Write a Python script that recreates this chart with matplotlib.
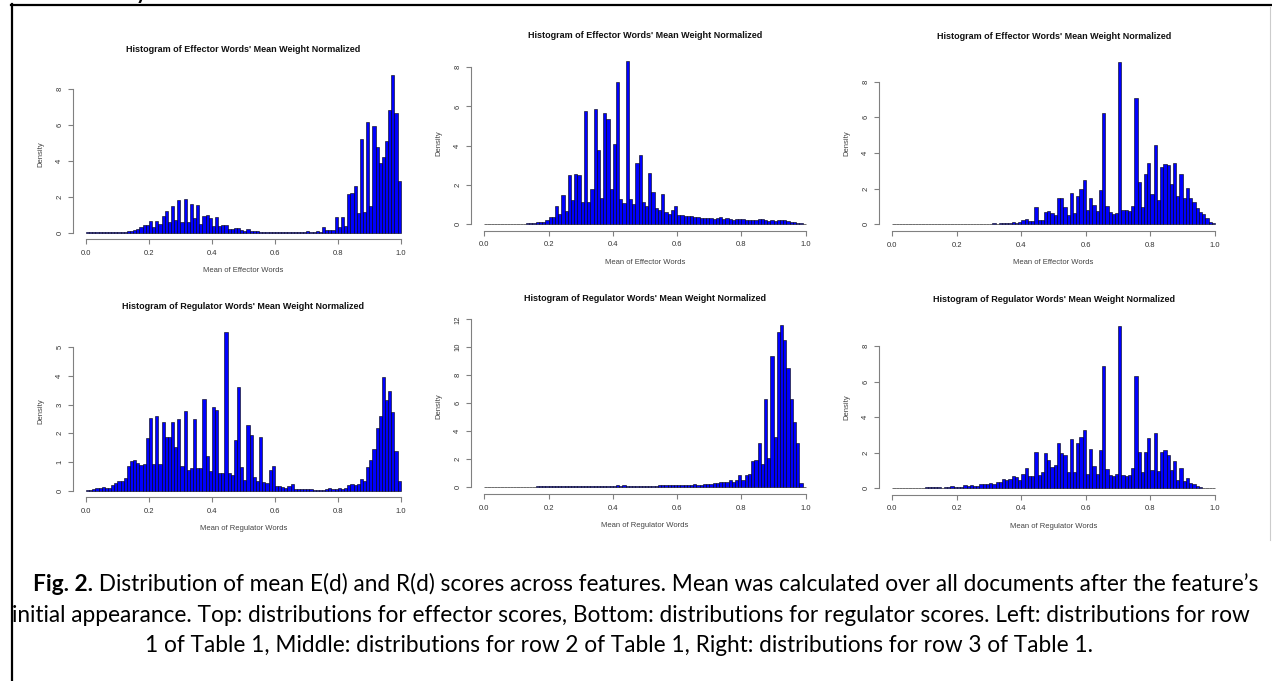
import numpy as np
import matplotlib
matplotlib.use("Agg")
import matplotlib.pyplot as plt
from matplotlib.lines import Line2D

W, H = 1272, 681

# density per 0.01-wide bin
eff_row1 = [0.02, 0.02, 0.02, 0.02, 0.02, 0.02, 0.03, 0.03, 0.05, 0.05,
            0.05, 0.06, 0.06, 0.07, 0.1, 0.15, 0.2, 0.3, 0.45, 0.45,
            0.65, 0.3, 0.65, 0.5, 0.95, 1.2, 0.6, 1.5, 0.7, 1.8,
            0.6, 1.85, 0.6, 1.6, 0.8, 1.55, 0.5, 0.95, 1.0, 0.8,
            0.4, 0.85, 0.4, 0.45, 0.45, 0.2, 0.22, 0.25, 0.25, 0.15,
            0.12, 0.18, 0.12, 0.1, 0.1, 0.06, 0.06, 0.05, 0.06, 0.05,
            0.05, 0.06, 0.05, 0.05, 0.06, 0.04, 0.04, 0.04, 0.05, 0.05,
            0.1, 0.05, 0.05, 0.08, 0.05, 0.3, 0.15, 0.15, 0.15, 0.9,
            0.3, 0.85, 0.35, 2.15, 2.2, 2.6, 1.1, 5.2, 1.15, 6.15,
            1.5, 5.9, 4.75, 3.85, 4.2, 5.1, 6.8, 8.75, 6.65, 2.85]

eff_row2 = [0.02, 0.02, 0.02, 0.02, 0.02, 0.02, 0.02, 0.02, 0.02, 0.02,
            0.02, 0.02, 0.02, 0.05, 0.03, 0.03, 0.08, 0.08, 0.1, 0.2,
            0.35, 0.35, 0.9, 0.5, 1.5, 0.65, 2.5, 1.2, 2.55, 2.5,
            1.1, 5.75, 1.1, 1.8, 5.85, 3.8, 1.35, 5.65, 5.35, 1.8,
            4.1, 7.25, 1.3, 1.05, 8.3, 1.3, 1.0, 3.1, 3.5, 1.1,
            0.9, 2.6, 1.65, 0.8, 0.7, 1.55, 0.6, 0.5, 0.7, 0.9,
            0.45, 0.45, 0.4, 0.4, 0.4, 0.38, 0.35, 0.33, 0.3, 0.3,
            0.3, 0.28, 0.3, 0.35, 0.25, 0.3, 0.27, 0.22, 0.27, 0.25,
            0.25, 0.22, 0.2, 0.22, 0.2, 0.25, 0.28, 0.2, 0.15, 0.18,
            0.15, 0.2, 0.2, 0.18, 0.15, 0.12, 0.08, 0.05, 0.03, 0.02]

eff_row3 = [0.01, 0.01, 0.01, 0.01, 0.01, 0.01, 0.01, 0.01, 0.01, 0.01,
            0.01, 0.01, 0.01, 0.01, 0.01, 0.01, 0.01, 0.01, 0.01, 0.01,
            0.01, 0.01, 0.01, 0.01, 0.01, 0.01, 0.01, 0.02, 0.02, 0.02,
            0.03, 0.05, 0.03, 0.05, 0.1, 0.05, 0.05, 0.15, 0.1, 0.12,
            0.25, 0.3, 0.2, 0.2, 0.95, 0.25, 0.25, 0.7, 0.75, 0.65,
            0.55, 1.45, 1.5, 0.95, 0.55, 1.75, 0.65, 1.6, 2.0, 2.5,
            0.8, 1.45, 1.1, 0.75, 1.9, 6.25, 1.05, 0.7, 0.6, 0.65,
            9.1, 0.8, 0.8, 0.75, 1.05, 7.1, 2.4, 0.95, 2.85, 3.45,
            1.7, 4.45, 1.35, 3.2, 3.4, 3.3, 2.25, 3.45, 1.6, 2.8,
            1.5, 2.05, 1.5, 1.25, 0.9, 0.7, 0.6, 0.35, 0.15, 0.05]

reg_row1 = [0.02, 0.04, 0.06, 0.08, 0.08, 0.14, 0.1, 0.1, 0.2, 0.28,
            0.32, 0.32, 0.45, 0.85, 1.05, 1.08, 0.95, 0.9, 0.93, 1.82,
            2.52, 0.93, 2.6, 0.92, 2.38, 1.88, 1.88, 2.38, 1.52, 2.5,
            0.85, 2.78, 0.72, 0.8, 2.5, 0.78, 0.78, 3.2, 1.22, 0.67,
            2.93, 2.83, 0.63, 0.63, 5.52, 0.6, 0.53, 1.77, 3.63, 0.82,
            0.38, 2.3, 1.95, 0.48, 0.33, 1.87, 0.3, 0.27, 0.72, 0.87,
            0.15, 0.15, 0.12, 0.08, 0.15, 0.24, 0.07, 0.06, 0.06, 0.06,
            0.06, 0.05, 0.04, 0.03, 0.03, 0.04, 0.06, 0.1, 0.05, 0.05,
            0.08, 0.07, 0.1, 0.2, 0.23, 0.2, 0.25, 0.42, 0.35, 0.83,
            1.06, 1.47, 2.2, 2.6, 3.96, 3.18, 3.47, 2.75, 1.38, 0.32]

reg_row2 = [0.02, 0.02, 0.02, 0.02, 0.02, 0.03, 0.03, 0.04, 0.05, 0.04,
            0.04, 0.05, 0.05, 0.04, 0.05, 0.05, 0.06, 0.07, 0.08, 0.07,
            0.07, 0.1, 0.08, 0.08, 0.1, 0.07, 0.07, 0.08, 0.08, 0.1,
            0.07, 0.1, 0.08, 0.1, 0.08, 0.1, 0.1, 0.1, 0.1, 0.08,
            0.12, 0.15, 0.1, 0.15, 0.1, 0.08, 0.08, 0.1, 0.1, 0.1,
            0.1, 0.12, 0.12, 0.12, 0.15, 0.2, 0.15, 0.18, 0.15, 0.15,
            0.15, 0.2, 0.18, 0.18, 0.18, 0.22, 0.2, 0.2, 0.25, 0.25,
            0.25, 0.3, 0.28, 0.35, 0.4, 0.4, 0.5, 0.4, 0.5, 0.9,
            0.55, 0.9, 0.95, 1.9, 1.95, 3.15, 1.7, 6.3, 2.1, 9.4,
            3.6, 11.1, 11.6, 10.55, 8.5, 6.3, 4.7, 3.2, 0.3, 0.05]

reg_row3 = [0.01, 0.01, 0.01, 0.01, 0.01, 0.01, 0.02, 0.01, 0.01, 0.01,
            0.03, 0.03, 0.03, 0.05, 0.03, 0.02, 0.05, 0.05, 0.1, 0.05,
            0.08, 0.08, 0.17, 0.13, 0.15, 0.13, 0.12, 0.22, 0.2, 0.25,
            0.28, 0.25, 0.35, 0.33, 0.5, 0.45, 0.5, 0.68, 0.62, 0.45,
            0.8, 1.13, 0.65, 0.65, 2.05, 0.75, 0.93, 1.95, 1.6, 1.2,
            1.32, 2.52, 1.95, 1.88, 0.9, 2.78, 0.9, 2.52, 2.9, 3.3,
            0.8, 2.22, 1.25, 0.8, 2.13, 6.9, 1.1, 0.72, 0.65, 0.8,
            9.15, 0.72, 0.7, 0.72, 1.15, 6.3, 2.05, 0.9, 2.05, 2.8,
            1.02, 3.08, 0.95, 2.02, 2.17, 1.85, 1.0, 1.52, 0.45, 1.15,
            0.38, 0.57, 0.3, 0.22, 0.12, 0.05, 0.02, 0.01, 0.01, 0.0]

eff_title = "Histogram of Effector Words' Mean Weight Normalized"
reg_title = "Histogram of Regulator Words' Mean Weight Normalized"
eff_xlabel = "Mean of Effector Words"
reg_xlabel = "Mean of Regulator Words"
x_ticks = [0.0, 0.2, 0.4, 0.6, 0.8, 1.0]

caption_bold = "Fig. 2."
caption_lines = [
    " Distribution of mean E(d) and R(d) scores across features. Mean was calculated over all documents after the feature\u2019s",
    "initial appearance. Top: distributions for effector scores, Bottom: distributions for regulator scores. Left: distributions for row",
    "1 of Table 1, Middle: distributions for row 2 of Table 1, Right: distributions for row 3 of Table 1.",
]

plt.rcParams["font.family"] = ["Liberation Sans", "DejaVu Sans"]

fig = plt.figure(figsize=(W / 100, H / 100), dpi=100)

# plot regions in pixels: left, top, right, bottom
panels = [
    (eff_row1, eff_title, eff_xlabel, [0, 2, 4, 6, 8], (73.4, 68.9, 413.3, 239.0)),
    (eff_row2, eff_title, eff_xlabel, [0, 2, 4, 6, 8], (471.4, 54.9, 818.6, 230.5)),
    (eff_row3, eff_title, eff_xlabel, [0, 2, 4, 6, 8], (879.4, 55.6, 1227.9, 230.8)),
    (reg_row1, reg_title, reg_xlabel, [0, 1, 2, 3, 4, 5], (73.4, 326.1, 413.3, 497.0)),
    (reg_row2, reg_title, reg_xlabel, [0, 2, 4, 6, 8, 10, 12], (471.4, 318.4, 818.6, 493.8)),
    (reg_row3, reg_title, reg_xlabel, [0, 2, 4, 6, 8], (879.4, 319.4, 1227.9, 494.5)),
]

bin_left = np.arange(100) / 100.0
axis_grey = "#808080"

for dens, title, xlabel, yticks, (l, t, r, b) in panels:
    ax = fig.add_axes([l / W, 1 - b / H, (r - l) / W, (b - t) / H])
    ax.bar(bin_left, dens, width=0.01, align="edge", color="#0000ff",
           edgecolor="black", linewidth=0.4)
    ymax = max(dens)
    # R style: 4% padding around the data range
    ax.set_xlim(-0.04, 1.04)
    ax.set_ylim(-0.04 * ymax, 1.04 * ymax)
    for s in ["top", "right"]:
        ax.spines[s].set_visible(False)
    ax.spines["bottom"].set_bounds(0, 1)
    ax.spines["left"].set_bounds(yticks[0], yticks[-1])
    for s in ["bottom", "left"]:
        ax.spines[s].set_color(axis_grey)
        ax.spines[s].set_linewidth(0.8)
    ax.set_xticks(x_ticks)
    ax.set_xticklabels(["%.1f" % v for v in x_ticks])
    ax.set_yticks(yticks)
    ax.set_yticklabels([str(v) for v in yticks])
    ax.tick_params(axis="both", length=3.3, width=0.8, color=axis_grey,
                   labelcolor="#333333", labelsize=5.5)
    ax.tick_params(axis="x", pad=4.5)
    ax.tick_params(axis="y", pad=4.0)
    for lab in ax.get_yticklabels():
        lab.set_rotation(90)
        lab.set_va("center")
    ax.patch.set_visible(False)

    cx = (l + r) / 2
    fig.text(cx / W, 1 - (t - 19.5) / H, title, ha="center", va="center",
             fontsize=6.5, fontweight="bold", color="#111111")
    fig.text(cx / W, 1 - (b + 32) / H, xlabel, ha="center", va="center",
             fontsize=5.5, color="#444444")
    fig.text((l - 33) / W, 1 - (t + b) / 2 / H, "Density", rotation=90,
             ha="center", va="center", fontsize=5.5, color="#444444")

# frame around the figure
fig.add_artist(Line2D([11 / W, 1], [1 - 4.5 / H, 1 - 4.5 / H], transform=fig.transFigure,
                      color="black", linewidth=1.6))
fig.add_artist(Line2D([11.5 / W, 11.5 / W], [1 - 4 / H, 0], transform=fig.transFigure,
                      color="black", linewidth=1.6))
fig.add_artist(Line2D([1269.5 / W, 1269.5 / W], [1 - 7 / H, 1 - 540 / H], transform=fig.transFigure,
                      color="#cccccc", linewidth=0.8))
# descender of the heading cut off above the frame
fig.text(141 / W, 1 + 1.5 / H, "y", ha="center", va="baseline", fontsize=15,
         fontweight="bold", family=["Lato", "DejaVu Sans"])

# caption, sized to the width of the second line
cap_font = ["Lato", "DejaVu Sans"]
renderer = fig.canvas.get_renderer()
probe = fig.text(0, 0, caption_lines[1], fontsize=13, family=cap_font)
w2 = probe.get_window_extent(renderer=renderer).width
probe.remove()
cap_size = 13 * 1234 / w2

tb = fig.text(0, 1 - 591 / H, caption_bold, fontsize=cap_size, family=cap_font,
              fontweight="bold", va="baseline", ha="left")
tn = fig.text(0, 1 - 591 / H, caption_lines[0], fontsize=cap_size, family=cap_font,
              va="baseline", ha="left")
wb = tb.get_window_extent(renderer=renderer).width
wn = tn.get_window_extent(renderer=renderer).width
x0 = 646 - (wb + wn) / 2
tb.set_x(x0 / W)
tn.set_x((x0 + wb) / W)
fig.text(631 / W, 1 - 621.5 / H, caption_lines[1], fontsize=cap_size, family=cap_font,
         va="baseline", ha="center")
fig.text(619 / W, 1 - 652 / H, caption_lines[2], fontsize=cap_size, family=cap_font,
         va="baseline", ha="center")

fig.savefig("out.png", dpi=100)
